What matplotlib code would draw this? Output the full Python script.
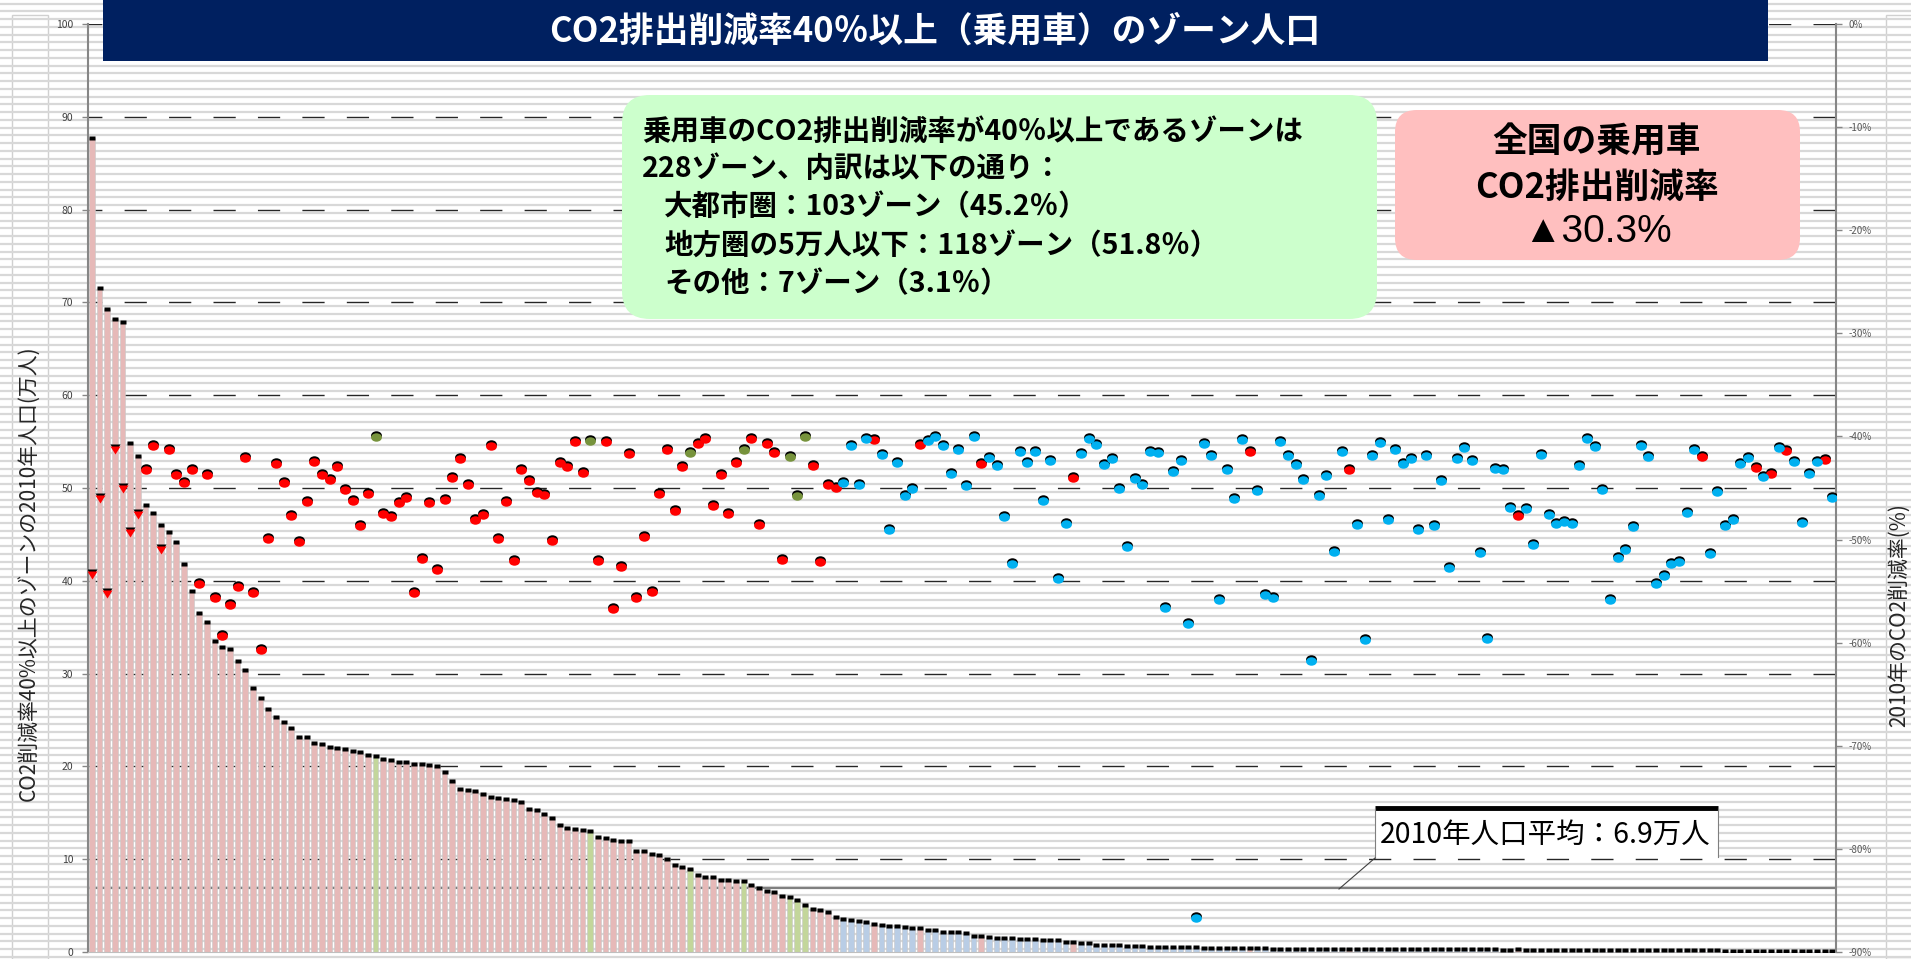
import numpy as np
import matplotlib
matplotlib.use('Agg')
import matplotlib.pyplot as plt
from matplotlib.markers import MarkerStyle
from matplotlib.patches import Rectangle, FancyBboxPatch
from matplotlib.transforms import Affine2D, offset_copy

plt.rcParams['font.family'] = ['Noto Sans CJK JP', 'DejaVu Sans']

# 2010 population of each zone (10k people), zones sorted by population
pop_top = [87.7, 71.5, 69.3, 68.2, 67.9, 54.8, 53.5, 48.2, 47.3, 46.0,
           45.3, 44.2, 41.8, 38.9, 36.5, 35.6, 33.5, 32.9, 32.6, 31.4,
           30.4, 28.4, 27.4, 26.2, 25.3, 24.8, 24.1]
pop_mid = [23.2, 23.2, 22.5, 22.4, 22.1, 22.0, 21.9, 21.7, 21.5, 21.25,
           21.1, 20.8, 20.7, 20.5, 20.5, 20.3, 20.3, 20.1, 20.0, 19.4,
           18.4, 17.6, 17.5, 17.4, 17.0, 16.7, 16.6, 16.5, 16.4, 16.2,
           15.4, 15.3, 14.9, 14.4, 13.7, 13.4, 13.25, 13.2, 13.0, 12.4,
           12.3, 12.1, 12.0, 12.0, 10.9, 10.9, 10.6, 10.5, 10.0, 9.4,
           9.2, 8.9, 8.3, 8.1, 8.1, 7.75, 7.75, 7.6, 7.6, 7.2,
           6.9, 6.6, 6.5, 6.0, 5.9, 5.6, 5.1, 4.6, 4.5, 4.3,
           3.8, 3.6, 3.45, 3.3, 3.2, 3.0, 2.9, 2.8, 2.78]
pop_low = [2.66, 2.55, 2.55, 2.41, 2.33, 2.15, 2.12, 2.12, 2.08, 1.76,
           1.72, 1.62, 1.55, 1.50, 1.47, 1.44, 1.44, 1.37, 1.33, 1.29,
           1.26, 1.11, 1.11, 1.00, 0.97, 0.75, 0.75, 0.75, 0.72, 0.68,
           0.68, 0.68, 0.57, 0.57, 0.54, 0.54, 0.50, 0.50, 0.50, 0.47,
           0.47, 0.43, 0.43, 0.43, 0.41, 0.45, 0.40, 0.40, 0.36, 0.36,
           0.35, 0.35, 0.34, 0.34, 0.33, 0.33]
pop_tail = [0.32, 0.32, 0.33, 0.31, 0.31, 0.31, 0.30, 0.30, 0.30, 0.30,
            0.29, 0.29, 0.29, 0.29, 0.28, 0.28, 0.28, 0.28, 0.27, 0.27,
            0.27, 0.27, 0.26, 0.26, 0.27, 0.26, 0.25, 0.25, 0.25, 0.25,
            0.24, 0.24, 0.24, 0.23, 0.23, 0.23, 0.22, 0.22, 0.22, 0.21,
            0.21, 0.21, 0.20, 0.20, 0.19, 0.19, 0.18, 0.18, 0.18, 0.17,
            0.17, 0.16, 0.16, 0.15, 0.15, 0.14, 0.14, 0.13, 0.13, 0.12,
            0.11, 0.11, 0.10, 0.09, 0.09, 0.08]

# 2010 CO2 reduction rate (%) of the same zones
rate_a = [-53.4, -46.1, -55.3, -41.3, -45.1, -49.4, -47.6, -43.3, -40.9, -51.0,
          -41.3, -43.7, -44.5, -43.3, -54.3, -43.7, -55.7, -59.4, -56.3, -54.6,
          -42.1, -55.2, -60.7, -49.9, -42.7, -44.5, -47.7, -50.2, -46.4, -42.5,
          -43.7, -44.2, -43.0, -45.2, -46.3, -48.7, -45.6, -40.1, -47.5, -47.8,
          -46.5, -46.0, -55.2, -51.9, -46.5, -53.0, -46.2, -44.0, -42.2, -44.7,
          -48.1, -47.6, -40.9, -49.9, -46.4, -52.1, -43.3, -44.3, -45.5, -45.7]
rate_b = [-50.1, -42.6, -43.0, -40.5, -43.5, -40.4, -52.1, -40.5, -56.7, -52.7,
          -41.7, -55.7, -49.8, -55.1, -45.6, -41.3, -47.2, -43.0, -41.6, -40.7,
          -40.2, -46.7, -43.7, -47.5, -42.6, -41.3, -40.2, -48.6, -40.7, -41.6,
          -52.0, -42.0, -45.8, -40.1, -42.9, -52.2, -44.7, -45.0, -44.5, -40.9,
          -44.7, -40.2, -40.3, -41.8, -49.1, -42.6, -45.8, -45.1, -40.8, -40.4,
          -40.1, -40.9, -43.6, -41.3, -44.8, -40.1, -42.7, -42.1, -42.9, -47.8]
rate_c = [-52.4, -41.5, -42.6, -41.5, -46.3, -42.4, -53.8, -48.5, -44.0, -41.7,
          -40.2, -40.8, -42.8, -42.2, -45.1, -50.7, -44.1, -44.7, -41.5, -41.6,
          -56.6, -43.4, -42.4, -58.2, -86.7, -40.7, -41.9, -55.9, -43.3, -46.1,
          -40.3, -41.5, -45.3, -55.4, -55.7, -40.5, -41.9, -42.8, -44.2, -61.8,
          -45.8, -43.8, -51.2, -41.5, -43.3, -48.6, -59.7, -41.9, -40.6, -48.1,
          -41.3, -42.7, -42.2, -49.1, -41.9, -48.7, -44.3, -52.8, -42.2, -41.1]
rate_d = [-42.4, -51.3, -59.6, -43.2, -43.3, -46.9, -47.7, -47.0, -50.5, -41.8,
          -47.6, -48.5, -48.3, -48.5, -42.9, -40.2, -41.0, -45.2, -55.9, -51.8,
          -51.0, -48.8, -40.9, -42.0, -54.3, -53.5, -52.4, -52.2, -47.4, -41.3,
          -42.0, -51.4, -45.4, -48.7, -48.1, -42.7, -42.1, -43.1, -43.9, -43.6,
          -41.1, -41.4, -42.5, -48.4, -43.6, -42.5, -42.3, -46.0]

# zone type: first 98 zones are metro unless listed in other_zones,
# after that rural unless listed in metro_later
n_metro_head = 98
other_zones = [37, 65, 78, 85, 91, 92, 93]
metro_later = [102, 108, 116, 128, 151, 164, 186, 210, 217, 219, 221, 226]
mean_pop = 6.9

pop = np.array(pop_top + pop_mid + pop_low + pop_tail)
rate = np.array(rate_a + rate_b + rate_c + rate_d)
n = len(pop)
assert n == 228 and len(rate) == 228
xs = np.arange(n)
kind = np.array(['rural'] * n, dtype=object)
kind[:n_metro_head] = 'metro'
kind[other_zones] = 'other'
kind[metro_later] = 'metro'

bar_col = {'metro': '#e6b9b8', 'rural': '#b9cde5', 'other': '#c3d69b'}
dot_col = {'metro': '#ff0000', 'rural': '#00b0f0', 'other': '#77933c'}

W, H = 1911, 959
fig = plt.figure(figsize=(W / 100, H / 100), dpi=100)

# striped background over the whole picture
bg = fig.add_axes([0, 0, 1, 1], zorder=0)
bg.set_xlim(0, W)
bg.set_ylim(H, 0)
bg.axis('off')
bg.hlines(np.arange(3.5, H, 7.75), 0, W, color='#d8d8d8', lw=1.6)
bg.add_patch(Rectangle((12, 15), 36, H - 15, fc='white', ec='#d0d0d0', lw=1))
bg.add_patch(Rectangle((1886, 15), 40, H - 15, fc='white', ec='#d0d0d0', lw=1))
bg.text(30, 573, 'CO2削減率40%以上のゾーンの2010年人口(万人)', rotation=90,
        ha='center', va='center', fontsize=15, color='#262626')
bg.text(1899, 615, '2010年のCO2削減率(%)', rotation=90,
        ha='center', va='center', fontsize=15, color='#262626')

# main axes: population bars
ax = fig.add_axes([88 / W, (H - 952) / H, (1836 - 88) / W, (952 - 24) / H], zorder=1)
ax.patch.set_visible(False)
ax.set_xlim(-0.5, n - 0.5)
ax.set_ylim(0, 100)
ax.hlines(np.arange(10, 101, 10), -0.5, n - 0.5, color='#262626', lw=1.0,
          linestyles=(6, (16, 16)), zorder=1)
ax.axhline(mean_pop, color='#7f7f7f', lw=1.6, zorder=1.5)
ax.bar(xs, pop, width=0.7, color=[bar_col[k] for k in kind],
       edgecolor='#c8c8c8', lw=0.4, zorder=2)
cap = MarkerStyle('s', transform=Affine2D().scale(1, 0.65))
ax.plot(xs, pop, ls='none', marker=cap, ms=5, color='black', mec='none', zorder=3)

ax.set_xticks([])
ax.set_yticks(range(0, 101, 10))
ax.tick_params(axis='y', direction='out', length=4.5, width=1, color='#868686',
               labelsize=7.5, labelcolor='#404040', pad=6)
for s in ['top', 'right']:
    ax.spines[s].set_visible(False)
ax.spines['left'].set_color('#868686')
ax.spines['left'].set_linewidth(1.5)
ax.spines['bottom'].set_color('#bfbfbf')

# secondary axes: CO2 reduction rate dots
ax2 = ax.twinx()
ax2.set_zorder(2)
ax2.patch.set_visible(False)
ax2.set_ylim(-90, 0)
ax2.set_yticks(range(-90, 1, 10))
ax2.set_yticklabels([f'{v}%' for v in range(-90, 1, 10)])
ax2.tick_params(axis='y', direction='out', length=4, width=1, color='#868686',
                labelsize=7, labelcolor='#595959', pad=5)
for s in ['top', 'left', 'bottom']:
    ax2.spines[s].set_visible(False)
ax2.spines['right'].set_color('#868686')
ax2.spines['right'].set_linewidth(1.5)

ell = MarkerStyle('o', transform=Affine2D().scale(1, 0.78))
tri = MarkerStyle('v', transform=Affine2D().scale(1, 0.8))
lift = offset_copy(ax2.transData, fig=fig, x=0, y=2.0, units='dots')
inside = (rate + 90) / 0.9 < pop
for k in ['metro', 'rural', 'other']:
    for mk, m in [(ell, ~inside), (tri, inside)]:
        sel = (kind == k) & m
        if not sel.any():
            continue
        ax2.plot(xs[sel], rate[sel], ls='none', marker=mk, ms=7.8, mfc='black',
                 mec='none', transform=lift, zorder=3)
        ax2.plot(xs[sel], rate[sel], ls='none', marker=mk, ms=7.8, mfc=dot_col[k],
                 mec='none', zorder=4)

# overlay: title, notes and the mean callout (pixel coordinates)
top = fig.add_axes([0, 0, 1, 1], zorder=5)
top.set_xlim(0, W)
top.set_ylim(H, 0)
top.axis('off')
top.patch.set_visible(False)

top.add_patch(Rectangle((103, 0), 1665, 61, fc='#002060', ec='none'))
top.text(935, 31, 'CO2排出削減率40％以上（乗用車）のゾーン人口', color='white',
         fontsize=25, fontweight='bold', ha='center', va='center')

top.add_patch(FancyBboxPatch((622, 95), 755, 224,
                             boxstyle='round,pad=0,rounding_size=28',
                             fc='#ccffcc', ec='none'))
note_lines = [(642, 132, '乗用車のCO2排出削減率が40％以上であるゾーンは'),
              (642, 169, '228ゾーン、内訳は以下の通り：'),
              (664, 207, '大都市圏：103ゾーン（45.2％）'),
              (664, 246, '地方圏の5万人以下：118ゾーン（51.8％）'),
              (664, 284, 'その他：7ゾーン（3.1％）')]
for x0, y0, s in note_lines:
    top.text(x0, y0, s, fontsize=20.5, fontweight='bold', ha='left', va='center')

top.add_patch(FancyBboxPatch((1395, 110), 405, 150,
                             boxstyle='round,pad=0,rounding_size=22',
                             fc='#ffbfbf', ec='none'))
top.text(1597, 142, '全国の乗用車', fontsize=25, fontweight='bold',
         ha='center', va='center')
top.text(1597, 187, 'CO2排出削減率', fontsize=25, fontweight='bold',
         ha='center', va='center')
top.text(1597, 232, '▲30.3%', fontsize=28, ha='center', va='center',
         family=['Liberation Sans', 'DejaVu Sans'])

top.add_patch(Rectangle((1375, 807), 343, 51, fc='white', ec='none'))
top.plot([1375, 1718], [808, 808], color='black', lw=3.5, solid_capstyle='butt')
top.plot([1375, 1375], [808, 858], color='#7f7f7f', lw=0.8)
top.plot([1718, 1718], [808, 857], color='#7f7f7f', lw=0.8)
top.plot([1375, 1339], [858, 889], color='#404040', lw=0.8)
top.text(1380, 835, '2010年人口平均：6.9万人', fontsize=20.5, ha='left', va='center')

fig.savefig('out.png', dpi=100)
